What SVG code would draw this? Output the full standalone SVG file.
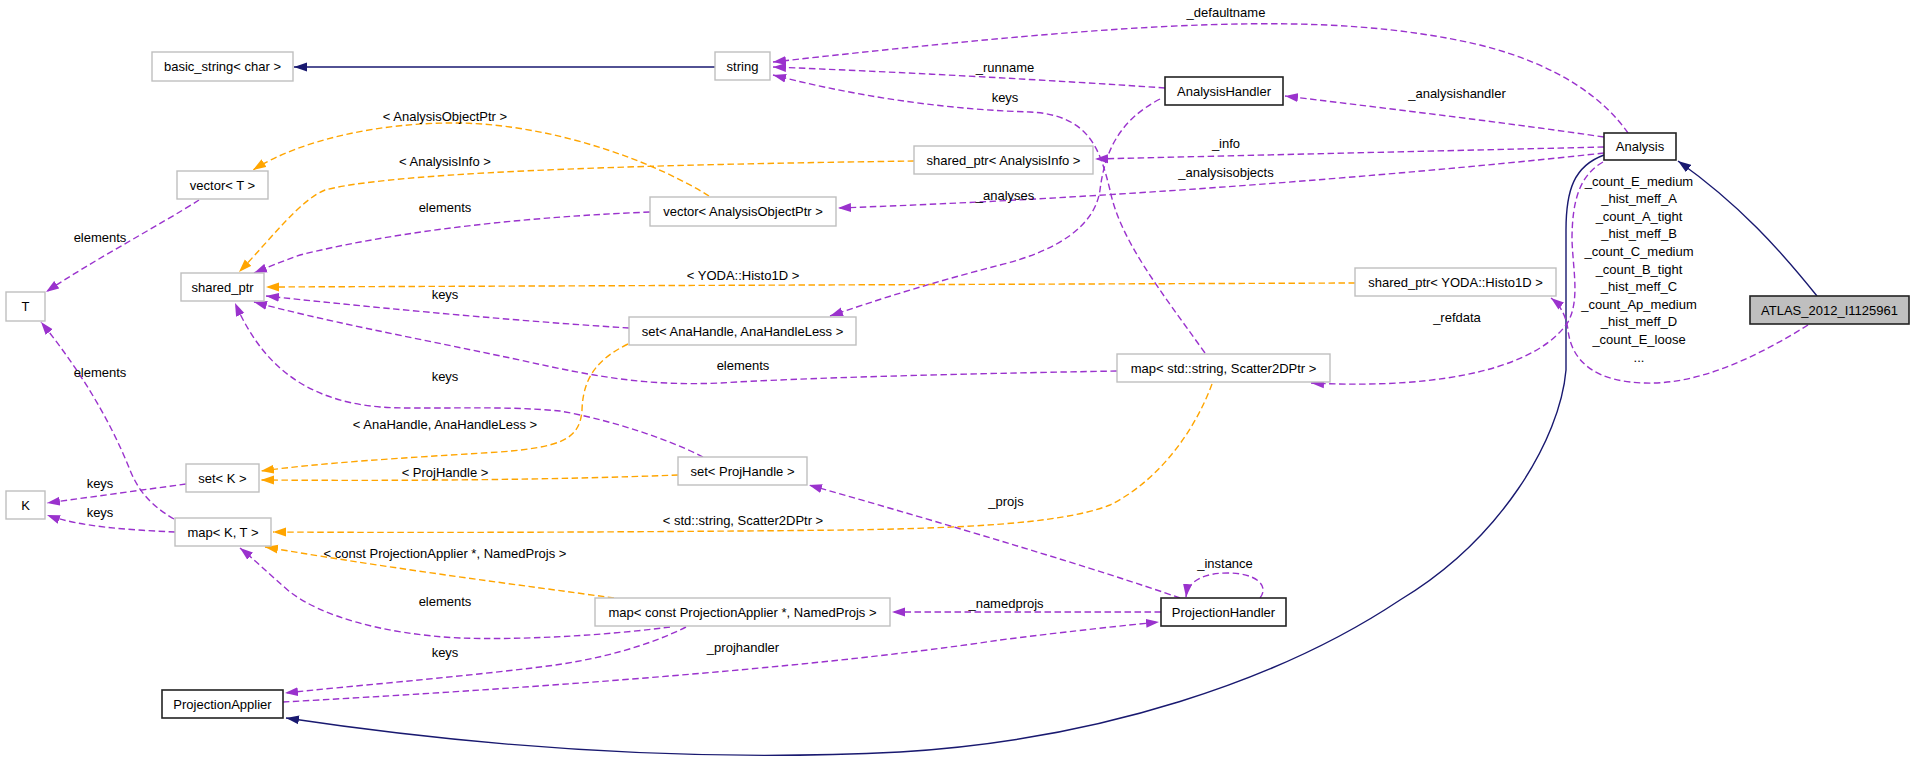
<svg xmlns="http://www.w3.org/2000/svg" width="1915" height="764" viewBox="0 0 1915 764">
<style>
text{font-family:"Liberation Sans",Arial,sans-serif;font-size:13px;fill:#000;}
.n{text-anchor:middle;}
.l{text-anchor:middle;}
.g{fill:#fff;stroke:#bfbfbf;stroke-width:1.4;}
.b{fill:#fff;stroke:#222;stroke-width:1.6;}
.p{fill:none;stroke:#9a32cd;stroke-width:1.4;stroke-dasharray:6.5,3.5;marker-end:url(#mp);}
.o{fill:none;stroke:#ffa500;stroke-width:1.4;stroke-dasharray:6.5,3.5;marker-end:url(#mo);}
.v{fill:none;stroke:#191970;stroke-width:1.4;marker-end:url(#mv);}
</style>
<defs>
<marker id="mp" viewBox="0 0 13 10" refX="13" refY="5" markerWidth="13" markerHeight="10" orient="auto" markerUnits="userSpaceOnUse"><path d="M0,0.5L13,5L0,9.5z" fill="#9a32cd"/></marker>
<marker id="mo" viewBox="0 0 13 10" refX="13" refY="5" markerWidth="13" markerHeight="10" orient="auto" markerUnits="userSpaceOnUse"><path d="M0,0.5L13,5L0,9.5z" fill="#ffa500"/></marker>
<marker id="mv" viewBox="0 0 13 10" refX="13" refY="5" markerWidth="13" markerHeight="10" orient="auto" markerUnits="userSpaceOnUse"><path d="M0,0.5L13,5L0,9.5z" fill="#191970"/></marker>
</defs>
<rect width="1915" height="764" fill="#fff"/>
<g id="edges">
<path class="v" d="M715,67 L294,67"/>
<path class="p" d="M1628,133 C1605,100 1560,65 1480,45 C1330,10 1150,20 773,62"/>
<path class="p" d="M1165,88 C1050,80 900,72 773,67"/>
<path class="p" d="M1205,353 C1160,290 1120,240 1110,190 C1100,150 1090,115 1030,112 C960,110 870,100 773,75"/>
<path class="p" d="M1604,137 C1500,122 1400,110 1285,96"/>
<path class="p" d="M1160,99 C1120,120 1105,150 1100,190 C1095,225 1060,250 1000,265 C950,278 900,292 830,316"/>
<path class="p" d="M1604,147 L1095,159"/>
<path class="p" d="M1604,153 C1450,170 1150,197 838,208"/>
<path class="o" d="M914,161 C700,164 400,170 325,190 C300,200 270,240 239,272"/>
<path class="o" d="M709,196 C660,165 560,125 460,123 C380,122 300,140 253,170"/>
<path class="p" d="M650,212 C500,218 380,235 300,255 C280,262 266,268 254,273"/>
<path class="p" d="M199,200 C160,225 90,262 46,292"/>
<path class="o" d="M1355,283 L266,287"/>
<path class="p" d="M629,328 C500,320 350,305 266,296"/>
<path class="p" d="M1117,371 C950,374 800,378 720,383 C650,386 600,378 520,360 C400,335 320,320 254,302"/>
<path class="p" d="M703,457 C660,435 600,418 560,411 C500,405 420,410 380,407 C300,400 260,360 235,303"/>
<path class="o" d="M628,344 C595,360 583,380 582,410 C580,440 560,447 500,452 C400,458 320,463 261,471"/>
<path class="o" d="M678,475 C550,480 400,481 261,480"/>
<path class="p" d="M186,484 L47,503"/>
<path class="p" d="M175,532 C130,530 80,527 47,515"/>
<path class="p" d="M174,519 C150,505 138,490 130,470 C110,420 80,370 41,322"/>
<path class="o" d="M1212,384 C1195,430 1160,480 1110,505 C1060,525 950,528 850,530 C650,532 450,533 273,532"/>
<path class="o" d="M614,598 C520,585 400,570 265,547"/>
<path class="p" d="M670,627 C600,636 520,640 460,638 C380,634 320,615 290,592 C270,575 255,560 240,548"/>
<path class="p" d="M686,627 C650,645 600,660 540,667 C450,678 350,686 285,693"/>
<path class="p" d="M283,702 C500,690 800,670 1000,640 C1080,630 1120,626 1159,622"/>
<path class="p" d="M1161,612 L892,612"/>
<path class="p" d="M1180,598 C1100,570 950,525 809,485"/>
<path class="p" d="M1260,598 C1270,585 1255,573 1228,573 C1205,573 1188,580 1186,597"/>
<path class="v" d="M1604,155 C1574,166 1566,190 1566,230 L1566,370 C1560,440 1500,540 1400,600 C1280,680 1100,740 900,752 C700,762 500,750 286,718"/>
<path class="v" d="M1817,296 C1780,250 1740,205 1678,161"/>
<path class="p" d="M1808,325 C1760,355 1700,385 1645,383 C1600,382 1572,365 1568,330 C1566,315 1560,305 1551,298"/>
<path class="p" d="M1603,162 C1580,175 1572,200 1572,240 C1573,270 1580,300 1568,322 C1540,365 1450,390 1311,383"/>
</g>
<g id="edge-labels">
<text class="l" x="1226" y="17">_defaultname</text>
<text class="l" x="1005" y="71.5">_runname</text>
<text class="l" x="1005" y="101.5">keys</text>
<text class="l" x="1457" y="97.5">_analysishandler</text>
<text class="l" x="1226" y="147.5">_info</text>
<text class="l" x="1226" y="176.5">_analysisobjects</text>
<text class="l" x="1005" y="199.5">_analyses</text>
<text class="l" x="445" y="120.5">&lt; AnalysisObjectPtr &gt;</text>
<text class="l" x="445" y="165.5">&lt; AnalysisInfo &gt;</text>
<text class="l" x="445" y="211.5">elements</text>
<text class="l" x="100" y="241.5">elements</text>
<text class="l" x="743" y="279.5">&lt; YODA::Histo1D &gt;</text>
<text class="l" x="445" y="298.5">keys</text>
<text class="l" x="743" y="369.5">elements</text>
<text class="l" x="100" y="376.5">elements</text>
<text class="l" x="445" y="380.5">keys</text>
<text class="l" x="445" y="428.5">&lt; AnaHandle, AnaHandleLess &gt;</text>
<text class="l" x="445" y="476.5">&lt; ProjHandle &gt;</text>
<text class="l" x="100" y="487.5">keys</text>
<text class="l" x="1006" y="505.5">_projs</text>
<text class="l" x="100" y="516.5">keys</text>
<text class="l" x="743" y="524.5">&lt; std::string, Scatter2DPtr &gt;</text>
<text class="l" x="445" y="557.5">&lt; const ProjectionApplier *, NamedProjs &gt;</text>
<text class="l" x="1225" y="567.5">_instance</text>
<text class="l" x="445" y="605.5">elements</text>
<text class="l" x="1006" y="607.5">_namedprojs</text>
<text class="l" x="743" y="651.5">_projhandler</text>
<text class="l" x="445" y="656.5">keys</text>
<text class="l" x="1457" y="321.5">_refdata</text>
<text class="l" x="1639" y="185.5">_count_E_medium<tspan x="1639" dy="17.6">_hist_meff_A</tspan><tspan x="1639" dy="17.6">_count_A_tight</tspan><tspan x="1639" dy="17.6">_hist_meff_B</tspan><tspan x="1639" dy="17.6">_count_C_medium</tspan><tspan x="1639" dy="17.6">_count_B_tight</tspan><tspan x="1639" dy="17.6">_hist_meff_C</tspan><tspan x="1639" dy="17.6">_count_Ap_medium</tspan><tspan x="1639" dy="17.6">_hist_meff_D</tspan><tspan x="1639" dy="17.6">_count_E_loose</tspan><tspan x="1639" dy="17.6">...</tspan></text>
</g>
<g id="node-basic_string"><rect class="g" x="152" y="52" width="141" height="29"/><text class="n" x="222.5" y="71">basic_string&lt; char &gt;</text></g>
<g id="node-string"><rect class="g" x="715" y="52" width="55" height="28"/><text class="n" x="742.5" y="70.5">string</text></g>
<g id="node-AnalysisHandler"><rect class="b" x="1165" y="77" width="118" height="28"/><text class="n" x="1224" y="95.5">AnalysisHandler</text></g>
<g id="node-Analysis"><rect class="b" x="1604" y="133" width="72" height="27"/><text class="n" x="1640" y="151">Analysis</text></g>
<g id="node-ATLAS"><rect x="1750" y="296" width="159" height="28" fill="#bfbfbf" stroke="#222" stroke-width="1.6"/><text class="n" x="1829.5" y="314.5">ATLAS_2012_I1125961</text></g>
<g id="node-vectorT"><rect class="g" x="177" y="171" width="91" height="28"/><text class="n" x="222.5" y="189.5">vector&lt; T &gt;</text></g>
<g id="node-sp-AnalysisInfo"><rect class="g" x="914" y="146" width="179" height="28"/><text class="n" x="1003.5" y="164.5">shared_ptr&lt; AnalysisInfo &gt;</text></g>
<g id="node-vector-AOP"><rect class="g" x="650" y="197" width="186" height="29"/><text class="n" x="743" y="216">vector&lt; AnalysisObjectPtr &gt;</text></g>
<g id="node-T"><rect class="g" x="6" y="292" width="39" height="29"/><text class="n" x="25.5" y="311">T</text></g>
<g id="node-shared_ptr"><rect class="g" x="181" y="273" width="83" height="28"/><text class="n" x="222.5" y="291.5">shared_ptr</text></g>
<g id="node-sp-Histo1D"><rect class="g" x="1355" y="268" width="201" height="28"/><text class="n" x="1455.5" y="286.5">shared_ptr&lt; YODA::Histo1D &gt;</text></g>
<g id="node-set-AnaHandle"><rect class="g" x="629" y="317" width="227" height="28"/><text class="n" x="742.5" y="335.5">set&lt; AnaHandle, AnaHandleLess &gt;</text></g>
<g id="node-map-string"><rect class="g" x="1117" y="354" width="213" height="28"/><text class="n" x="1223.5" y="372.5">map&lt; std::string, Scatter2DPtr &gt;</text></g>
<g id="node-setK"><rect class="g" x="186" y="464" width="73" height="28"/><text class="n" x="222.5" y="482.5">set&lt; K &gt;</text></g>
<g id="node-set-ProjHandle"><rect class="g" x="678" y="457" width="129" height="28"/><text class="n" x="742.5" y="475.5">set&lt; ProjHandle &gt;</text></g>
<g id="node-K"><rect class="g" x="6" y="491" width="39" height="28"/><text class="n" x="25.5" y="509.5">K</text></g>
<g id="node-mapKT"><rect class="g" x="175" y="518" width="96" height="28"/><text class="n" x="223" y="536.5">map&lt; K, T &gt;</text></g>
<g id="node-map-PA"><rect class="g" x="595" y="598" width="295" height="28"/><text class="n" x="742.5" y="616.5">map&lt; const ProjectionApplier *, NamedProjs &gt;</text></g>
<g id="node-ProjectionHandler"><rect class="b" x="1161" y="598" width="125" height="28"/><text class="n" x="1223.5" y="616.5">ProjectionHandler</text></g>
<g id="node-ProjectionApplier"><rect class="b" x="162" y="690" width="121" height="28"/><text class="n" x="222.5" y="708.5">ProjectionApplier</text></g>
</svg>
